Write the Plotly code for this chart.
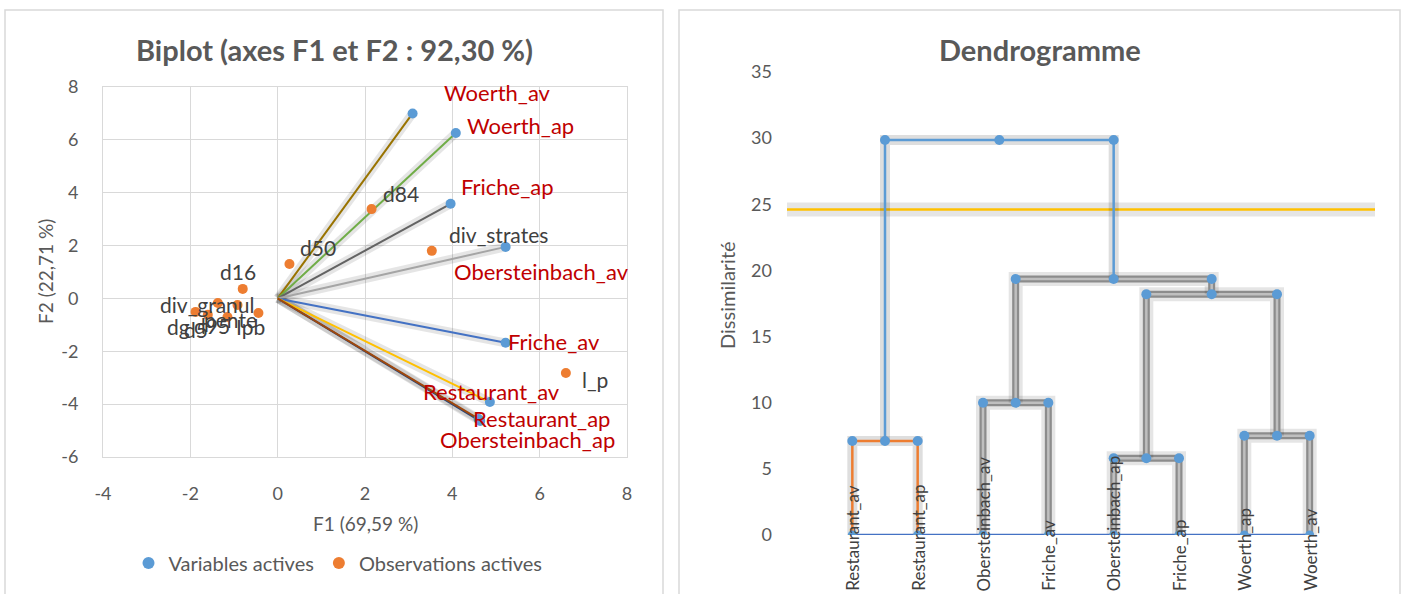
import plotly.graph_objects as go

W, H = 1405, 594
FONT = "Lato"
GRAY_TXT = "#595959"

# ---------------- Biplot data ----------------
var_names = ["Obersteinbach_ap", "Woerth_av", "Woerth_ap", "Friche_ap", "Obersteinbach_av",
             "Friche_av", "Restaurant_av", "Restaurant_ap"]
var_f1 = [4.64, 3.09, 4.08, 3.96, 5.22, 5.22, 4.86, 4.60]
var_f2 = [-4.64, 7.00, 6.26, 3.58, 1.95, -1.68, -3.92, -4.56]
var_colors = ["#264478", "#997300", "#70AD47", "#636363", "#A5A5A5", "#4472C4", "#FFC000", "#9E480E"]
# label offsets (pixels) of each label centre from its point
var_label_dx = [47, 85, 65, 57, 36, 48, 2, 63]
var_label_dy = [18, -21, -7, -17, 25, -1, -11, 0]

obs_names = ["d84", "d50", "d16", "div_strates", "l_p", "div_granul", "dg", "d5", "pente", "Ipb", "d95"]
obs_f1 = [2.15, 0.27, -0.80, 3.53, 6.60, -1.37, -1.88, -1.60, -0.44, -0.92, -1.15]
obs_f2 = [3.38, 1.30, 0.36, 1.80, -2.82, -0.17, -0.51, -0.62, -0.55, -0.25, -0.70]
obs_label_dx = [29, 29, -5, 67, 29, -10, -17, -12, -28, 13, -15]
obs_label_dy = [-16, -17, -17, -16, 7, 2, 15, 15, 7, 21, 9]

x1_ticks = [-4, -2, 0, 2, 4, 6, 8]
x1_ticktext = ["-4", "-2", "0", "2", "4", "6", "8"]
y1_ticks = [-6, -4, -2, 0, 2, 4, 6, 8]
y1_ticktext = ["-6", "-4", "-2", "0", "2", "4", "6", "8"]

# ---------------- Dendrogram data ----------------
leaf_names = ["Restaurant_av", "Restaurant_ap", "Obersteinbach_av", "Friche_av",
              "Obersteinbach_ap", "Friche_ap", "Woerth_ap", "Woerth_av"]
# merges: (left node id, right node id, dissimilarity); leaves are ids 0..7
merges = [(0, 1, 7.1), (4, 5, 5.8), (6, 7, 7.5), (2, 3, 10.0),
          (9, 10, 18.2), (11, 12, 19.35), (8, 13, 29.86)]
merge_styles = ["orange", "gray", "gray", "gray", "gray", "gray", "blue"]
cut_height = 24.6
y2_ticks = [0, 5, 10, 15, 20, 25, 30, 35]

fig = go.Figure()

# ---------------- Biplot traces ----------------
for n, f1, f2, c in zip(var_names, var_f1, var_f2, var_colors):
    fig.add_trace(go.Scatter(x=[0, f1], y=[0, f2], mode="lines",
                             line=dict(color="rgba(0,0,0,0.10)", width=9),
                             hoverinfo="skip", showlegend=False, xaxis="x", yaxis="y"))
for n, f1, f2, c in zip(var_names, var_f1, var_f2, var_colors):
    fig.add_trace(go.Scatter(x=[0, f1], y=[0, f2], mode="lines",
                             line=dict(color=c, width=2),
                             hoverinfo="skip", showlegend=False, xaxis="x", yaxis="y"))

fig.add_trace(go.Scatter(x=var_f1, y=var_f2, mode="markers", name="Variables actives",
                         marker=dict(color="#5B9BD5", size=10), xaxis="x", yaxis="y"))
fig.add_trace(go.Scatter(x=obs_f1, y=obs_f2, mode="markers", name="Observations actives",
                         marker=dict(color="#ED7D31", size=10), xaxis="x", yaxis="y"))

for n, f1, f2, dx, dy in zip(var_names, var_f1, var_f2, var_label_dx, var_label_dy):
    fig.add_annotation(x=f1, y=f2, xref="x", yref="y", text=n, showarrow=False,
                       xanchor="center", yanchor="middle", xshift=dx, yshift=-dy,
                       font=dict(family=FONT, size=22, color="#C00000"))
for n, f1, f2, dx, dy in zip(obs_names, obs_f1, obs_f2, obs_label_dx, obs_label_dy):
    fig.add_annotation(x=f1, y=f2, xref="x", yref="y", text=n, showarrow=False,
                       xanchor="center", yanchor="middle", xshift=dx, yshift=-dy,
                       font=dict(family=FONT, size=21, color="#404040"))

# ---------------- Dendrogram traces ----------------
node_x = [i + 1 for i in range(len(leaf_names))]
node_h = [0.0] * len(leaf_names)
seg_traces = []
for (l, r, h), st in zip(merges, merge_styles):
    xl, xr = node_x[l], node_x[r]
    xm = (xl + xr) / 2
    xs = [xl, xl, xm, xr, xr]
    ys = [node_h[l], h, h, h, node_h[r]]
    node_x.append(xm)
    node_h.append(h)
    seg_traces.append((xs, ys, st))

# cut line
fig.add_trace(go.Scatter(x=[0, 9], y=[cut_height, cut_height], mode="lines",
                         line=dict(color="rgba(0,0,0,0.10)", width=14),
                         hoverinfo="skip", showlegend=False, xaxis="x2", yaxis="y2"))
fig.add_trace(go.Scatter(x=[0, 9], y=[cut_height, cut_height], mode="lines",
                         line=dict(color="#FFC000", width=2.5),
                         hoverinfo="skip", showlegend=False, xaxis="x2", yaxis="y2"))

for xs, ys, st in seg_traces:
    if st == "gray":
        fig.add_trace(go.Scatter(x=xs, y=ys, mode="lines", line=dict(color="rgba(0,0,0,0.10)", width=14),
                                 hoverinfo="skip", showlegend=False, xaxis="x2", yaxis="y2"))
        fig.add_trace(go.Scatter(x=xs, y=ys, mode="lines", line=dict(color="#8C8C8C", width=7),
                                 hoverinfo="skip", showlegend=False, xaxis="x2", yaxis="y2"))
        fig.add_trace(go.Scatter(x=xs, y=ys, mode="lines", line=dict(color="#BFBFBF", width=2.5),
                                 hoverinfo="skip", showlegend=False, xaxis="x2", yaxis="y2"))
    else:
        col = "#ED7D31" if st == "orange" else "#5B9BD5"
        fig.add_trace(go.Scatter(x=xs, y=ys, mode="lines", line=dict(color="rgba(0,0,0,0.13)", width=10),
                                 hoverinfo="skip", showlegend=False, xaxis="x2", yaxis="y2"))
        fig.add_trace(go.Scatter(x=xs, y=ys, mode="lines", line=dict(color=col, width=2.5),
                                 hoverinfo="skip", showlegend=False, xaxis="x2", yaxis="y2"))

# baseline with leaves
leaf_x = list(range(1, len(leaf_names) + 1))
fig.add_trace(go.Scatter(x=leaf_x, y=[0] * len(leaf_x), mode="lines+markers",
                         line=dict(color="#4472C4", width=2.5),
                         marker=dict(color="#5B9BD5", size=9),
                         hoverinfo="skip", showlegend=False, xaxis="x2", yaxis="y2"))
for xs, ys, st in seg_traces:
    fig.add_trace(go.Scatter(x=xs[1:4], y=ys[1:4], mode="markers",
                             marker=dict(color="#5B9BD5", size=10),
                             hoverinfo="skip", showlegend=False, xaxis="x2", yaxis="y2"))


# ---------------- Layout ----------------
def px_x(p):
    return p / W


def px_y(p):
    return 1 - p / H


for lx, ln in zip(leaf_x, leaf_names):
    fig.add_annotation(x=lx, y=px_y(593), xref="x2", yref="paper", text=ln, textangle=-90,
                       showarrow=False, xanchor="center", yanchor="bottom",
                       font=dict(family=FONT, size=17, color="#404040"))

axis_font = dict(family=FONT, size=18, color=GRAY_TXT)

fig.update_layout(
    width=W, height=H, margin=dict(l=0, r=0, t=0, b=0, pad=0, autoexpand=False),
    paper_bgcolor="white", plot_bgcolor="white",
    showlegend=True,
    legend=dict(orientation="h", x=px_x(338), y=px_y(563), xanchor="center", yanchor="middle",
                font=dict(family=FONT, size=20, color=GRAY_TXT), itemsizing="constant"),
    xaxis=dict(domain=[px_x(103), px_x(627)], range=[-4, 8], tickvals=x1_ticks, ticktext=x1_ticktext,
               showgrid=True, gridcolor="#D9D9D9", gridwidth=1, zeroline=False,
               showline=True, linecolor="#D9D9D9", mirror=True, ticks="", automargin=False,
               tickfont=axis_font, ticklabelstandoff=20, anchor="y"),
    yaxis=dict(domain=[px_y(457), px_y(87)], range=[-6, 8], tickvals=y1_ticks, ticktext=y1_ticktext,
               showgrid=True, gridcolor="#D9D9D9", gridwidth=1, zeroline=False,
               showline=True, linecolor="#D9D9D9", mirror=True, ticks="", automargin=False,
               tickfont=axis_font, ticklabelstandoff=20, anchor="x"),
    xaxis2=dict(domain=[px_x(787), px_x(1375)], range=[0, 9], showgrid=False, zeroline=False,
                showline=False, showticklabels=False, ticks="", automargin=False, anchor="y2"),
    yaxis2=dict(domain=[px_y(535), px_y(72)], range=[0, 35], tickvals=y2_ticks,
                showgrid=False, zeroline=False, showline=False, ticks="", automargin=False,
                tickfont=axis_font, ticklabelstandoff=14, anchor="x2"),
    shapes=[
        dict(type="rect", xref="paper", yref="paper", x0=px_x(5), x1=px_x(663), y0=-0.05, y1=px_y(10),
             line=dict(color="#D9D9D9", width=1.5), fillcolor="rgba(0,0,0,0)", layer="below"),
        dict(type="rect", xref="paper", yref="paper", x0=px_x(679), x1=px_x(1400), y0=-0.05, y1=px_y(10),
             line=dict(color="#D9D9D9", width=1.5), fillcolor="rgba(0,0,0,0)", layer="below"),
    ],
)

fig.add_annotation(x=px_x(334), y=px_y(50), xref="paper", yref="paper", showarrow=False,
                   xanchor="center", yanchor="middle",
                   text="<b>Biplot (axes F1 et F2 : 92,30 %)</b>",
                   font=dict(family=FONT, size=29, color=GRAY_TXT))
fig.add_annotation(x=px_x(1040), y=px_y(50), xref="paper", yref="paper", showarrow=False,
                   xanchor="center", yanchor="middle",
                   text="<b>Dendrogramme</b>",
                   font=dict(family=FONT, size=29, color=GRAY_TXT))
fig.add_annotation(x=px_x(365), y=px_y(523), xref="paper", yref="paper", showarrow=False,
                   xanchor="center", yanchor="middle",
                   text="F1 (69,59 %)", font=dict(family=FONT, size=19, color=GRAY_TXT))
fig.add_annotation(x=px_x(45), y=px_y(272), xref="paper", yref="paper", showarrow=False,
                   xanchor="center", yanchor="middle",
                   text="F2 (22,71 %)", textangle=-90, font=dict(family=FONT, size=19, color=GRAY_TXT))
fig.add_annotation(x=px_x(727), y=px_y(295), xref="paper", yref="paper", showarrow=False,
                   xanchor="center", yanchor="middle",
                   text="Dissimilarité", textangle=-90, font=dict(family=FONT, size=20, color=GRAY_TXT))

fig.write_html("out.html", post_script="document.body.style.margin='0px';",
               config={"displayModeBar": False})
